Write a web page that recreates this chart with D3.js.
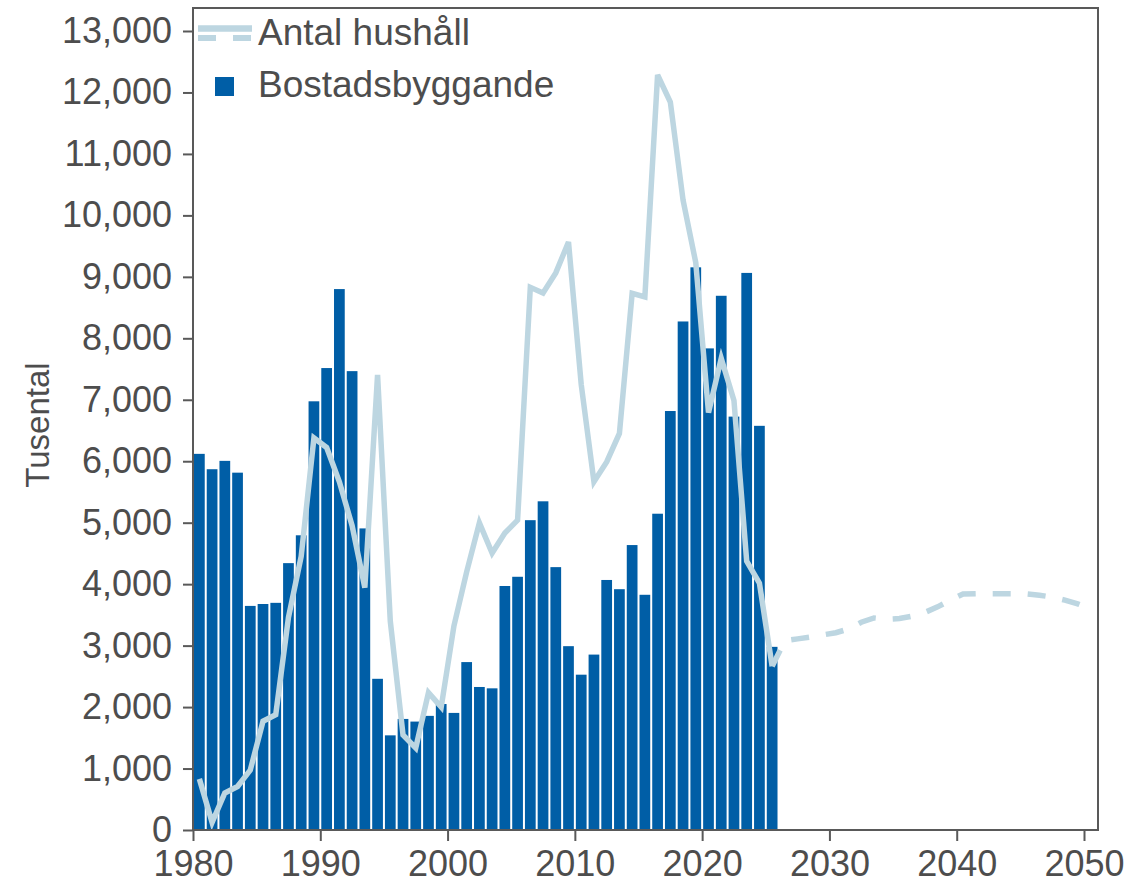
<!DOCTYPE html>
<html>
<head>
<meta charset="utf-8">
<script src="https://cdn.jsdelivr.net/npm/d3@7"></script>
<style>
  body { margin: 0; background: #fff; }
  text { font-family: "Liberation Sans", Arial, sans-serif; fill: #4d4d4d; }
</style>
</head>
<body>
<div id="chart"></div>
<script>
// Bostadsbyggande vs antal hushåll (tusental)

var barYears = d3.range(1980, 2026);
var bostadsbyggande = [6120, 5870, 6006, 5814, 3646, 3677, 3696, 4342, 4795, 6975,
    7516, 8801, 7466, 4907, 2460, 1540, 1807, 1764, 1857, 2050,
    1905, 2732, 2327, 2305, 3970, 4120, 5041, 5348, 4277, 2991,
    2527, 2854, 4068, 3918, 4636, 3827, 5146, 6817, 8274, 9155,
    7836, 8692, 6726, 9064, 6576, 2980];

var hushallYears = d3.range(1980, 2026);
var hushall = [832, 124, 602, 708, 975, 1770, 1876, 3460, 4453, 6379,
    6224, 5665, 4950, 3944, 7404, 3398, 1547, 1335, 2236, 2000,
    3320, 4200, 4998, 4506, 4832, 5041, 8829, 8737, 9064, 9566,
    7248, 5668, 5988, 6452, 8731, 8672, 12284, 11845, 10250, 9230,
    6791, 7673, 6987, 4375, 4016, 2664];

var prognosYears = d3.range(2025, 2051);
var hushallPrognos = [2664, 3080, 3110, 3140, 3175, 3210, 3270, 3380, 3450, 3430,
    3440, 3480, 3540, 3630, 3740, 3840, 3845, 3845, 3845, 3845,
    3840, 3820, 3790, 3740, 3680, 3600];

var yTicks = d3.range(0, 13001, 1000);
var xTicks = d3.range(1980, 2051, 10);

var width = 1130, height = 888;
var m = {left: 193, right: 1098, top: 8, bottom: 830};
var barColor = '#005ea6', lineColor = '#bdd6e1', axisColor = '#595959';

var svg = d3.select('#chart').append('svg')
    .attr('width', width)
    .attr('height', height);

var x = d3.scaleLinear().domain([1980, 2051.1]).range([m.left, m.right]);
var y = d3.scaleLinear().domain([0, 13000]).range([m.bottom, 31]);
var step = x(1981) - x(1980);

// Bars
svg.append('g').selectAll('rect')
    .data(barYears)
    .enter().append('rect')
    .attr('x', function(d) { return x(d) + 1; })
    .attr('width', step - 2)
    .attr('y', function(d, i) { return y(bostadsbyggande[i]); })
    .attr('height', function(d, i) { return m.bottom - y(bostadsbyggande[i]); })
    .attr('fill', barColor);

// Lines (points at bar centres)
var line = d3.line()
    .x(function(d) { return x(d[0] + 0.5); })
    .y(function(d) { return y(d[1]); });

svg.append('path')
    .datum(d3.zip(hushallYears, hushall))
    .attr('d', line)
    .attr('fill', 'none')
    .attr('stroke', lineColor)
    .attr('stroke-width', 5.5);

svg.append('path')
    .datum(d3.zip(prognosYears, hushallPrognos))
    .attr('d', line)
    .attr('fill', 'none')
    .attr('stroke', lineColor)
    .attr('stroke-width', 5.5)
    .attr('stroke-dasharray', '18,17');

// Frame
svg.append('rect')
    .attr('x', m.left).attr('y', m.top)
    .attr('width', m.right - m.left).attr('height', m.bottom - m.top)
    .attr('fill', 'none')
    .attr('stroke', axisColor)
    .attr('stroke-width', 2);

// Axes
var yAxis = svg.append('g')
    .attr('transform', 'translate(' + m.left + ',0)')
    .call(d3.axisLeft(y).tickValues(yTicks).tickFormat(d3.format(',')).tickSize(10).tickPadding(11));

var xAxis = svg.append('g')
    .attr('transform', 'translate(0,' + m.bottom + ')')
    .call(d3.axisBottom(x).tickValues(xTicks).tickFormat(d3.format('d')).tickSize(11).tickPadding(9));

[yAxis, xAxis].forEach(function(g) {
    g.select('.domain').remove();
    g.selectAll('line').attr('stroke', axisColor).attr('stroke-width', 2);
    g.selectAll('text')
        .attr('fill', '#4d4d4d')
        .style('font-size', '36px')
        .style('font-family', '"Liberation Sans", Arial, sans-serif');
});

// Y title
svg.append('text')
    .attr('transform', 'translate(49,' + 425 + ') rotate(-90)')
    .attr('text-anchor', 'middle')
    .style('font-size', '33px')
    .text('Tusental');

// Legend
var lg = svg.append('g');
lg.append('line')
    .attr('x1', 198).attr('x2', 252).attr('y1', 28.5).attr('y2', 28.5)
    .attr('stroke', lineColor).attr('stroke-width', 6.5);
lg.append('line')
    .attr('x1', 198).attr('x2', 252).attr('y1', 38).attr('y2', 38)
    .attr('stroke', lineColor).attr('stroke-width', 6)
    .attr('stroke-dasharray', '18,17');
lg.append('text')
    .attr('x', 258).attr('y', 45)
    .style('font-size', '37px')
    .text('Antal hushåll');
lg.append('rect')
    .attr('x', 215).attr('y', 77).attr('width', 19).attr('height', 19)
    .attr('fill', barColor);
lg.append('text')
    .attr('x', 258).attr('y', 97)
    .style('font-size', '37px')
    .text('Bostadsbyggande');
</script>
</body>
</html>
